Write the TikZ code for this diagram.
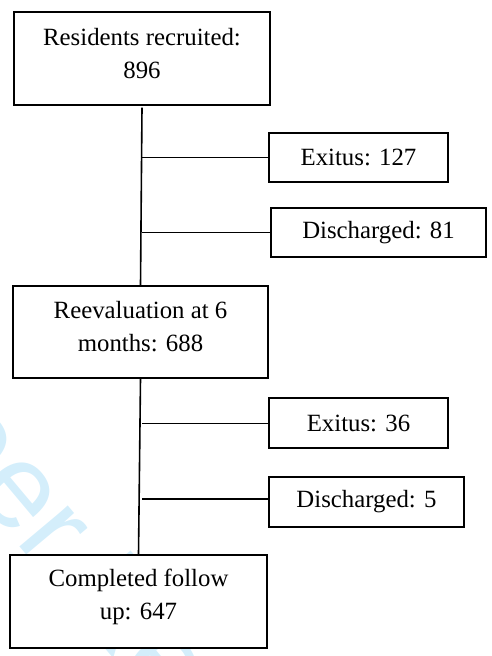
\documentclass[tikz,border=0pt]{standalone}
\usepackage{fontspec}
\setmainfont{Liberation Serif}
\newfontfamily\wmfont{Liberation Sans}
\definecolor{wmcyan}{RGB}{212,238,251}
\begin{document}
\begin{tikzpicture}[x=1pt,y=-1pt,
  box/.style={draw=black, fill=white, line width=1.4pt, inner sep=0pt,
    font=\fontsize{24.8}{33}\selectfont, align=center},
  lbl/.style={font=\fontsize{24.8}{33}\selectfont, align=center, inner sep=0pt},
  conn/.style={line width=1.6pt, draw=black}]
\useasboundingbox (0,0) rectangle (491,656);
% watermark
\node[font=\wmfont\fontsize{120}{120}\selectfont, text=wmcyan, rotate=-50, inner sep=0pt] (wm) at (60,528) {For Peer Review};
% main boxes
\node[box, minimum width=256, minimum height=93] (b1) at (142,58.5) {};
\node[lbl] (t1) at (142,53.5) {Residents recruited:\\896};
\node[box, minimum width=255, minimum height=92] (b2) at (140.5,332) {};
\node[lbl] (t2) at (140.5,327) {Reevaluation at 6\\months: 688};
\node[box, minimum width=257, minimum height=93] (b3) at (138.5,601.5) {};
\node[lbl] (t3) at (138.5,597) {Completed follow\\up: 647};
% side boxes
\node[box, minimum width=179, minimum height=49] (e1) at (358.5,157.5) {Exitus: 127};
\node[box, minimum width=215, minimum height=49] (d1) at (378.5,232.5) {Discharged: 81};
\node[box, minimum width=179, minimum height=50] (e2) at (358.5,423) {Exitus: 36};
\node[box, minimum width=195, minimum height=50] (d2) at (366.5,502) {Discharged: 5};
% connectors
\draw[conn] ([yshift=-2pt]b1.south) -- (b2.north);
\draw[conn] (b2.south) -- (b3.north);
\coordinate (j1) at (142,157.5);
\coordinate (j2) at (142,232.5);
\coordinate (j3) at (142,423.5);
\coordinate (j4) at (142,499);
\draw[conn] (j1) -- (j1 -| e1.west);
\draw[conn] (j2) -- (j2 -| d1.west);
\draw[conn] (j3) -- (j3 -| e2.west);
\draw[conn] (j4) -- (j4 -| d2.west);
\end{tikzpicture}
\end{document}
